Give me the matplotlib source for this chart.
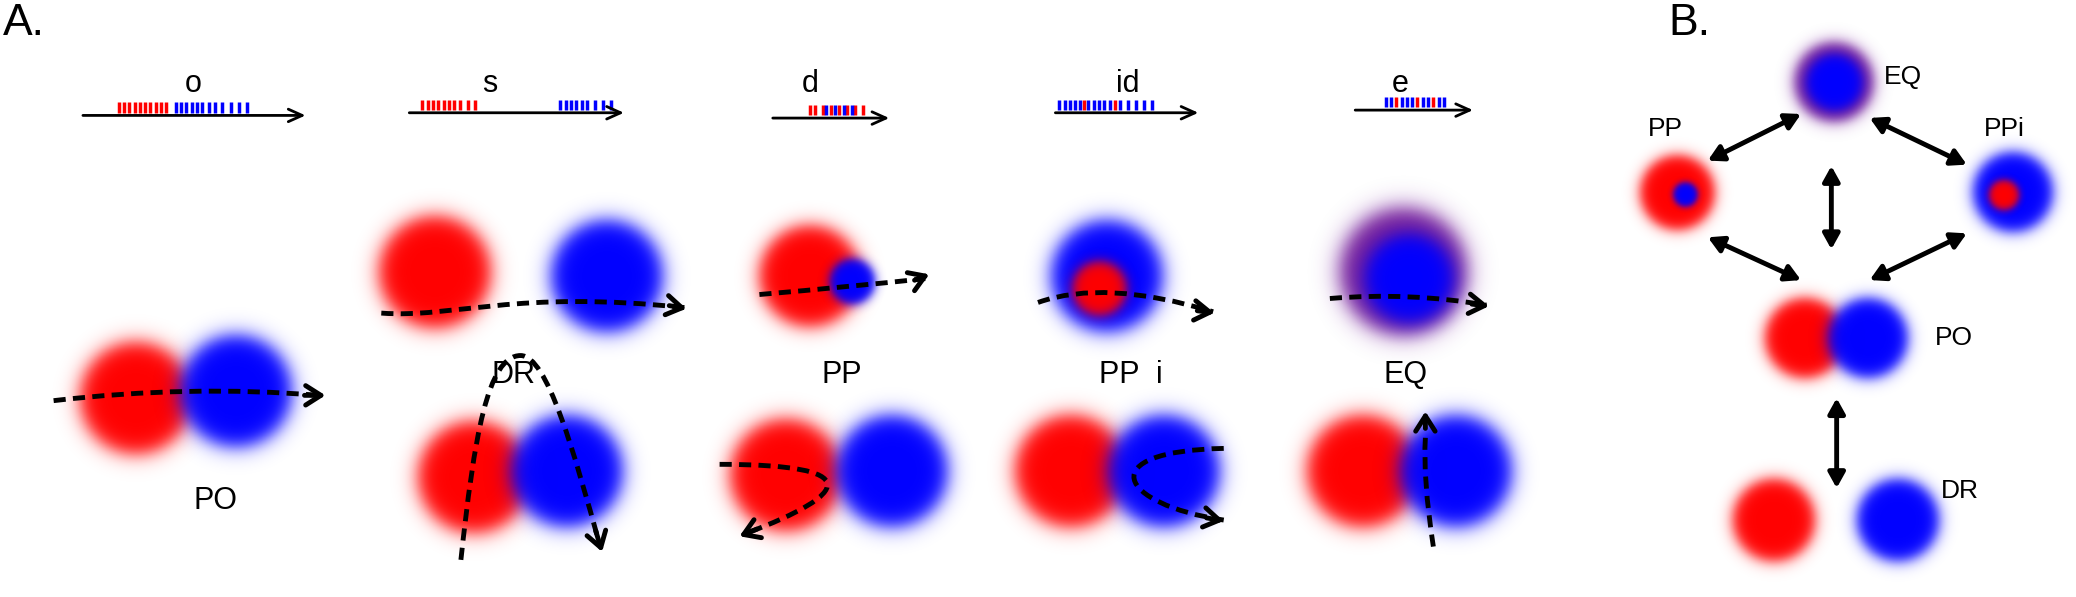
import numpy as np
import matplotlib
matplotlib.use("Agg")
import matplotlib.pyplot as plt
from matplotlib.path import Path
from matplotlib.patches import PathPatch

plt.rcParams['font.family'] = ['Liberation Sans', 'DejaVu Sans']

# ---- data ----
categories = ['o', 's', 'd', 'id', 'e']
cat_x = [143, 367, 608, 848, 1053]
arrow_spans = [(58, 230, 87), (304, 470, 85), (578, 670, 89), (791, 903, 85), (1017, 1110, 83)]
red_ticks = [[87, 91, 95, 99, 103, 107, 111, 115, 119, 123],
             [316, 320, 324, 328, 332, 336, 340, 344, 350, 356],
             [608, 612, 618, 624, 630, 636, 642, 648],
             [815, 838],
             [1050, 1066, 1078]]
blue_ticks = [[130, 134, 138, 142, 146, 150, 155, 160, 165, 172, 178, 184],
              [420, 424, 428, 432, 436, 440, 446, 452, 458],
              [620, 627, 634, 640],
              [796, 800, 804, 808, 812, 818, 822, 826, 830, 834, 842, 848, 854, 860, 866],
              [1042, 1046, 1054, 1058, 1062, 1070, 1074, 1082, 1086]]
state_labels = ['PO', 'DR', 'PP', 'PP  i', 'EQ']

fig = plt.figure(figsize=(20.76, 5.97), dpi=100)
ax = fig.add_axes([0, 0, 1, 1])
ax.set_xlim(0, 1560)
ax.set_ylim(450, 0)
ax.axis('off')
ax.set_autoscale_on(False)

def blob(x, y, r, color, soft=0.2):
    R = r * 1.7
    n = 240
    g = np.linspace(-R, R, n)
    X, Y = np.meshgrid(g, g)
    d = np.sqrt(X**2 + Y**2)
    a = 0.5 * (1 - np.tanh((d - r) / (r * soft)))
    a0 = 0.5 * (1 - np.tanh((R * 0.95 - r) / (r * soft)))
    a = np.clip((a - a0) / (1 - a0), 0, 1)
    img = np.zeros((n, n, 4))
    img[..., :3] = color
    img[..., 3] = a
    ax.imshow(img, extent=(x - R, x + R, y + R, y - R), interpolation='bilinear', zorder=1)

RED = (1, 0, 0); BLUE = (0, 0, 1); PURP = (0.45, 0.1, 0.6)

def curve(pts, codes):
    p = PathPatch(Path(pts, codes), fill=False, lw=3.5, ls=(0, (2.5, 1.5)), color='k', zorder=3)
    ax.add_patch(p)

def head(p0, p1):
    ax.annotate('', xy=p1, xytext=p0,
                arrowprops=dict(arrowstyle='->,head_length=1.1,head_width=0.7', lw=3.5, color='k'), zorder=4)

M, C3, C4, L = Path.MOVETO, Path.CURVE3, Path.CURVE4, Path.LINETO

ax.text(0, 18, 'A.', fontsize=32, va='center', ha='left')
ax.text(1255, 18, 'B.', fontsize=32, va='center', ha='left')

for c, x, (x0, x1, y), rt, bt in zip(categories, cat_x, arrow_spans, red_ticks, blue_ticks):
    ax.text(x, 63, c, fontsize=22, ha='center', va='center')
    ax.annotate('', xy=(x1, y), xytext=(x0, y),
                arrowprops=dict(arrowstyle='->,head_length=1.0,head_width=0.45', lw=2, color='k'))
    ax.vlines(rt, y - 10, y - 2, color='red', lw=2.5)
    ax.vlines(bt, y - 10, y - 2, color='blue', lw=2.5)

blob(100, 300, 42, RED); blob(175, 295, 42, BLUE)
curve([(38, 302), (140, 290), (238, 298)], [M, C3, C3]); head((225, 298), (245, 298))
ax.text(160, 378, state_labels[0], fontsize=22, ha='center', va='center')

blob(325, 205, 42, RED); blob(455, 208, 42, BLUE)
curve([(285, 236), (340, 240), (385, 218), (515, 232)], [M, C4, C4, C4]); head((500, 230), (517, 233))
ax.text(385, 283, state_labels[1], fontsize=22, ha='center', va='center')

blob(608, 208, 38, RED); blob(640, 212, 17, BLUE, 0.25)
curve([(570, 222), (640, 216), (695, 210)], [M, C3, C3]); head((685, 212), (700, 206))
ax.text(632, 283, state_labels[2], fontsize=22, ha='center', va='center')

blob(832, 208, 42, BLUE); blob(826, 218, 20, RED, 0.25)
curve([(780, 228), (830, 210), (912, 235)], [M, C3, C3]); head((898, 234), (915, 236))
ax.text(850, 283, state_labels[3], fontsize=22, ha='center', va='center')

blob(1055, 205, 48, PURP); blob(1060, 210, 33, BLUE, 0.25)
curve([(1000, 225), (1060, 220), (1118, 230)], [M, C3, C3]); head((1105, 229), (1122, 231))
ax.text(1057, 283, state_labels[4], fontsize=22, ha='center', va='center')

blob(355, 360, 42, RED); blob(425, 355, 42, BLUE)
curve([(345, 422), (355, 330), (365, 268), (390, 268), (410, 268), (430, 340), (450, 412)], [M, C4, C4, C4, C4, C4, C4])
head((446, 398), (452, 418))
blob(590, 358, 42, RED); blob(670, 355, 42, BLUE)
curve([(540, 350), (650, 350), (640, 372), (560, 402)], [M, C4, C4, C4]); head((570, 398), (553, 405))
blob(805, 355, 42, RED); blob(875, 355, 42, BLUE)
curve([(920, 338), (820, 340), (840, 380), (920, 392)], [M, C4, C4, C4]); head((905, 390), (922, 393))
blob(1025, 355, 42, RED); blob(1095, 355, 42, BLUE)
curve([(1078, 412), (1070, 360), (1072, 330)], [M, C3, C3]); head((1072, 325), (1072, 308))

blob(1380, 62, 30, PURP); blob(1380, 62, 21, BLUE, 0.25)
ax.text(1432, 58, 'EQ', fontsize=19, ha='center', va='center')
blob(1262, 145, 28, RED); blob(1268, 147, 9, BLUE, 0.3)
ax.text(1253, 97, 'PP', fontsize=19, ha='center', va='center')
blob(1515, 145, 30, BLUE); blob(1508, 147, 11, RED, 0.3)
ax.text(1508, 97, 'PPi', fontsize=19, ha='center', va='center')
blob(1358, 255, 30, RED); blob(1405, 255, 30, BLUE)
ax.text(1470, 255, 'PO', fontsize=19, ha='center', va='center')
blob(1335, 392, 31, RED); blob(1428, 392, 31, BLUE)
ax.text(1475, 370, 'DR', fontsize=19, ha='center', va='center')
for a, b in [((1283, 122), (1357, 85)), ((1405, 88), (1482, 125)), ((1378, 123), (1378, 190)),
             ((1283, 178), (1357, 212)), ((1405, 212), (1482, 175)), ((1382, 298), (1382, 370))]:
    ax.annotate('', xy=b, xytext=a,
                arrowprops=dict(arrowstyle='<|-|>,head_length=0.9,head_width=0.5', lw=3.5, color='k'))

fig.savefig('out.png', dpi=100)
